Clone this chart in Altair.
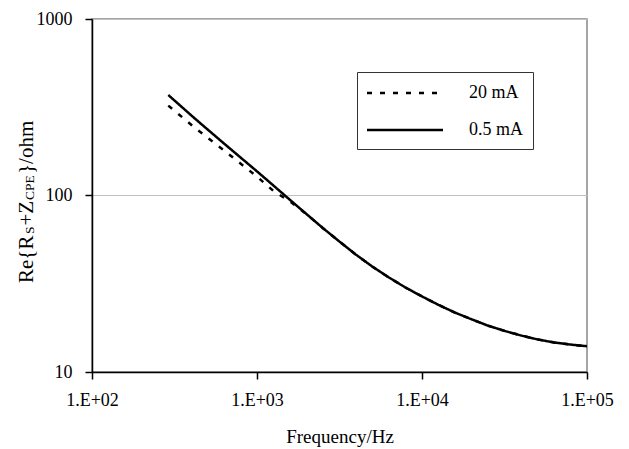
import altair as alt
import pandas as pd

# ---- data ----
freq_hz = [290, 420, 631, 1000, 1259, 1585, 1995, 2512, 3162, 3981, 5012, 6310, 7943,
           10000, 12590, 15850, 19950, 25120, 31620, 39810, 50120, 63100, 79430, 100000]
re_20mA = [323, 242, 180, 128, 106, 92.5, 78.5, 65.3, 54.8, 46.2, 39.5, 34.3, 30.1,
           26.8, 24.0, 21.7, 19.9, 18.3, 17.1, 16.1, 15.3, 14.7, 14.3, 14.0]
re_0p5mA = [371, 273, 197, 137, 113.8, 94.4, 78.5, 65.3, 54.8, 46.2, 39.5, 34.3, 30.1,
            26.8, 24.0, 21.7, 19.9, 18.3, 17.1, 16.1, 15.3, 14.7, 14.3, 14.0]
series_names = ["20 mA", "0.5 mA"]
x_tick_values = [100, 1000, 10000, 100000]
x_tick_labels = ["1.E+02", "1.E+03", "1.E+04", "1.E+05"]
y_tick_values = [10, 100, 1000]

FONT = "Liberation Serif, Times New Roman, serif"

df = pd.DataFrame({
    "freq": freq_hz * 2,
    "value": re_20mA + re_0p5mA,
    "series": [series_names[0]] * len(freq_hz) + [series_names[1]] * len(freq_hz),
})

x_label_expr = " : ".join(
    f"datum.value == {v} ? '{l}'" for v, l in zip(x_tick_values, x_tick_labels)
) + " : ''"

lines = alt.Chart(df).mark_line(color="black", strokeWidth=2.5, clip=True).encode(
    x=alt.X(
        "freq:Q",
        scale=alt.Scale(type="log", domain=[100, 100000], nice=False),
        axis=alt.Axis(
            values=x_tick_values, labelExpr=x_label_expr, title="Frequency/Hz",
            grid=False, labelFlush=False, labelPadding=12, titlePadding=18,
        ),
    ),
    y=alt.Y(
        "value:Q",
        scale=alt.Scale(type="log", domain=[10, 1000], nice=False),
        axis=alt.Axis(
            values=y_tick_values, format="d", title=None, grid=True,
            gridColor="#c0c0c0", gridWidth=1.2, labelPadding=13,
        ),
    ),
    strokeDash=alt.StrokeDash(
        "series:N",
        scale=alt.Scale(domain=series_names, range=[[5, 8], [1, 0]]),
        legend=alt.Legend(
            orient="none", legendX=265, legendY=53, title=None,
            symbolType="M-4,0H4", symbolSize=361, symbolStrokeWidth=2.5,
            symbolStrokeColor="black", symbolOffset=27,
            labelFont=FONT, labelFontSize=18, labelColor="black", labelOffset=53,
            labelExpr="datum.label + '\u00a0\u00a0\u00a0\u00a0\u00a0\u00a0\u00a0'",
            strokeColor="#333333", fillColor="white", padding=10, rowPadding=17,
        ),
    ),
)

# y-axis title with subscripts, built from pieces of real text
title_pieces = [
    ("Re{R", 21, -59, 264),
    ("S", 13.5, -58, 215),
    ("+Z", 21, -59, 206.6),
    ("CPE", 13.5, -58, 181),
    ("}/ohm", 21, -59, 155),
]
title_layers = []
for txt, size, px, py in title_pieces:
    title_layers.append(
        alt.Chart(pd.DataFrame({"t": [txt]})).mark_text(
            angle=270, align="left", baseline="alphabetic",
            font=FONT, fontSize=size, color="black",
        ).encode(x=alt.value(px), y=alt.value(py), text="t:N")
    )

chart = alt.layer(lines, *title_layers).properties(
    width=495, height=353,
    padding={"left": 84, "top": 11, "right": 34, "bottom": 76},
    autosize=alt.AutoSizeParams(type="none"),
    background="white",
).configure_view(
    stroke="#888888", strokeWidth=1.5,
).configure_axis(
    labelFont=FONT, labelFontSize=18, labelColor="black",
    titleFont=FONT, titleFontSize=19, titleFontWeight="normal", titleColor="black",
    domainColor="black", domainWidth=1.5, tickColor="black", tickWidth=1.5, tickSize=7,
)

chart.save("out.html", embed_options={"renderer": "svg", "actions": False})
